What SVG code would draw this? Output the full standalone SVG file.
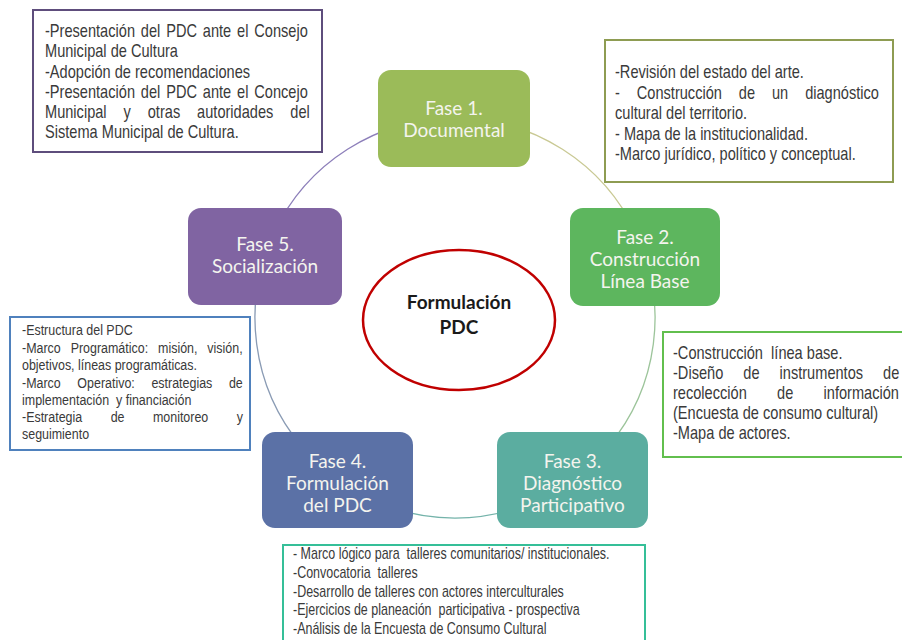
<svg xmlns="http://www.w3.org/2000/svg" width="902" height="640" viewBox="0 0 902 640">
<defs>
<style>
.ph{font-family:Lato,"Open Sans","Liberation Sans",sans-serif;font-size:19px;fill:#f4f4ee;text-anchor:middle}
.ctr{font-family:Lato,"Liberation Sans",sans-serif;font-size:19px;font-weight:bold;fill:#1a1a1a;text-anchor:middle}
.nt{font-family:"Liberation Sans",Arial,sans-serif;font-size:17.8px;fill:#3a3a3a}
.ns{font-family:"Liberation Sans",Arial,sans-serif;font-size:15.2px;fill:#3a3a3a}
.ne{font-family:"Liberation Sans",Arial,sans-serif;font-size:16px;fill:#3a3a3a}
.pre{white-space:pre}
.arc{fill:none;stroke-width:1.3}
.box{fill:#ffffff;stroke-width:2}
</style>
</defs>
<rect width="902" height="640" fill="#ffffff"/>

<g id="connectors">
<path class="arc" stroke="#c9c994" d="M455,118 A200,200 0 0 1 636.3,233.5"/>
<path class="arc" stroke="#9cc49a" d="M636.3,233.5 A200,200 0 0 1 608.2,446.6"/>
<path class="arc" stroke="#74b3aa" d="M608.2,446.6 A200,200 0 0 1 301.8,446.6"/>
<path class="arc" stroke="#8a9bb4" d="M301.8,446.6 A200,200 0 0 1 273.7,233.5"/>
<path class="arc" stroke="#8d7fba" d="M273.7,233.5 A200,200 0 0 1 455,118"/>
</g>

<g id="fase1">
<rect x="378" y="70" width="152" height="97" rx="13" fill="#9bbb59"/>
<text class="ph" x="454" y="115">Fase 1.</text>
<text class="ph" x="454" y="137">Documental</text>
</g>
<g id="fase2">
<rect x="570" y="208" width="150" height="98" rx="13" fill="#5db65e"/>
<text class="ph" x="645" y="244">Fase 2.</text>
<text class="ph" x="645" y="266">Construcción</text>
<text class="ph" x="645" y="288">Línea Base</text>
</g>
<g id="fase3">
<rect x="497" y="432" width="151" height="96" rx="13" fill="#5bada0"/>
<text class="ph" x="572.5" y="468">Fase 3.</text>
<text class="ph" x="572.5" y="490">Diagnóstico</text>
<text class="ph" x="572.5" y="512">Participativo</text>
</g>
<g id="fase4">
<rect x="262" y="432" width="151" height="96" rx="13" fill="#5b71a6"/>
<text class="ph" x="337.5" y="468">Fase 4.</text>
<text class="ph" x="337.5" y="490">Formulación</text>
<text class="ph" x="337.5" y="512">del PDC</text>
</g>
<g id="fase5">
<rect x="188" y="208" width="154" height="97" rx="13" fill="#8064a2"/>
<text class="ph" x="265" y="251">Fase 5.</text>
<text class="ph" x="265" y="273">Socialización</text>
</g>

<g id="centro">
<ellipse cx="459" cy="320" rx="96" ry="70" fill="#ffffff" stroke="#c00000" stroke-width="2.5"/>
<text class="ctr" x="459" y="309">Formulación</text>
<text class="ctr" x="459" y="334">PDC</text>
</g>

<g id="nota-fase5">
<rect class="box" x="33" y="10" width="289" height="142" stroke="#5e4d7c"/>
<text class="nt" transform="translate(45,37) scale(0.82,1)" word-spacing="2.2">-Presentación del PDC ante el Consejo</text>
<text class="nt" transform="translate(45,57) scale(0.82,1)">Municipal de Cultura</text>
<text class="nt" transform="translate(45,77.5) scale(0.82,1)">-Adopción de recomendaciones</text>
<text class="nt" transform="translate(45,98) scale(0.82,1)" word-spacing="2.2">-Presentación del PDC ante el Concejo</text>
<text class="nt" transform="translate(45,118) scale(0.82,1)" word-spacing="15.7">Municipal y otras autoridades del</text>
<text class="nt" transform="translate(45,138) scale(0.82,1)">Sistema Municipal de Cultura.</text>
</g>

<g id="nota-fase1">
<rect class="box" x="605" y="40" width="288" height="142" stroke="#8e9c52"/>
<text class="nt" transform="translate(615,78) scale(0.82,1)">-Revisión del estado del arte.</text>
<text class="nt" transform="translate(615,99) scale(0.82,1)" word-spacing="15.7">- Construcción de un diagnóstico</text>
<text class="nt" transform="translate(615,119) scale(0.82,1)">cultural del territorio.</text>
<text class="nt" transform="translate(615,140) scale(0.82,1)">- Mapa de la institucionalidad.</text>
<text class="nt" transform="translate(615,160) scale(0.82,1)">-Marco jurídico, político y conceptual.</text>
</g>

<g id="nota-fase4">
<rect class="box" x="10" y="317" width="240" height="133" stroke="#4f81bd" stroke-width="1.5"/>
<text class="ns" transform="translate(22,335) scale(0.82,1)">-Estructura del PDC</text>
<text class="ns" transform="translate(22,352.5) scale(0.82,1)" word-spacing="7.9">-Marco Programático: misión, visión,</text>
<text class="ns" transform="translate(22,370) scale(0.82,1)">objetivos, líneas programáticas.</text>
<text class="ns" transform="translate(22,387.5) scale(0.82,1)" word-spacing="16.1">-Marco Operativo: estrategias de</text>
<text class="ns pre" transform="translate(22,405) scale(0.82,1)">implementación  y financiación</text>
<text class="ns" transform="translate(22,422) scale(0.82,1)" word-spacing="30.5">-Estrategia de monitoreo y</text>
<text class="ns" transform="translate(22,439) scale(0.82,1)">seguimiento</text>
</g>

<g id="nota-fase2">
<rect class="box" x="663" y="332" width="250" height="125" stroke="#62bf4e"/>
<text class="nt pre" transform="translate(673,359) scale(0.82,1)">-Construcción  línea base.</text>
<text class="nt" transform="translate(673,379) scale(0.82,1)" word-spacing="19.5">-Diseño de instrumentos de</text>
<text class="nt" transform="translate(673,399) scale(0.82,1)" word-spacing="32">recolección de información</text>
<text class="nt" transform="translate(673,419) scale(0.82,1)">(Encuesta de consumo cultural)</text>
<text class="nt" transform="translate(673,439) scale(0.82,1)">-Mapa de actores.</text>
</g>

<g id="nota-fase3">
<rect class="box" x="283" y="545" width="362" height="110" stroke="#35bf98"/>
<text class="ne pre" transform="translate(293,559) scale(0.78,1)">- Marco lógico para  talleres comunitarios/ institucionales.</text>
<text class="ne pre" transform="translate(293,578) scale(0.78,1)">-Convocatoria  talleres</text>
<text class="ne" transform="translate(293,596.5) scale(0.78,1)">-Desarrollo de talleres con actores interculturales</text>
<text class="ne pre" transform="translate(293,615) scale(0.78,1)">-Ejercicios de planeación  participativa - prospectiva</text>
<text class="ne" transform="translate(293,634) scale(0.78,1)">-Análisis de la Encuesta de Consumo Cultural</text>
</g>
</svg>
